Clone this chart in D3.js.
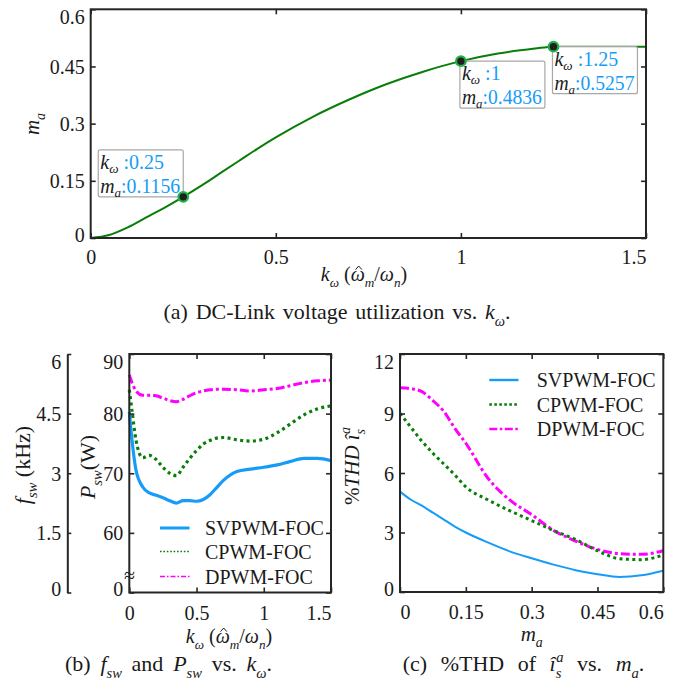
<!DOCTYPE html>
<html><head><meta charset="utf-8">
<script src="https://cdn.jsdelivr.net/npm/d3@7"></script>
<style>
html,body{margin:0;padding:0;background:#fff;}
text{font-family:"Liberation Serif","Times New Roman",serif;fill:#1a1a1a;}
</style></head>
<body><svg id="c" width="674" height="683"></svg>
<script>
// ---------- DATA ----------
// (a) DC-link voltage utilization
const kA  = [0,0.05,0.1,0.15,0.2,0.25,0.3,0.35,0.4,0.45,0.5,0.6,0.7,0.8,0.9,1.0,1.1,1.2,1.25,1.3,1.4,1.5];
const maA = [0,0.008,0.028,0.054,0.080,0.108,0.138,0.170,0.202,0.234,0.264,0.318,0.364,0.404,0.437,0.464,0.484,0.497,0.502,0.502,0.502,0.502];
const tipK = [0.25, 1, 1.25];
const tipMa = [0.108, 0.464, 0.502];
const tipKText = ["0.25", "1", "1.25"];
const tipMaText = ["0.1156", "0.4836", "0.5257"];
const xTicksA = [0, 0.5, 1, 1.5];
const yTicksA = [0, 0.15, 0.3, 0.45, 0.6];

// (b) switching frequency / power loss vs k_omega
const kB = [0,0.02,0.05,0.1,0.15,0.2,0.25,0.3,0.35,0.4,0.45,0.5,0.55,0.6,0.65,0.7,0.8,0.9,1.0,1.1,1.2,1.3,1.4,1.5];
const svB = [80.3,75.6,70.5,67.7,66.7,66.3,65.9,65.4,65.0,65.4,65.4,65.3,65.6,66.4,67.6,68.8,70.3,70.7,71.0,71.4,72.0,72.5,72.5,72.1];
const cpB = [84.0,80.5,75.5,72.6,73.0,72.3,71.0,70.0,69.6,71.0,72.5,73.8,74.9,75.5,75.9,76.0,75.6,75.4,75.7,76.8,78.3,79.8,80.8,81.3];
const dpB = [86.5,85.2,83.8,83.1,83.1,83.0,82.6,82.2,82.0,82.4,83.0,83.5,83.8,84.0,84.1,84.1,84.0,83.8,84.0,84.2,84.7,85.2,85.5,85.6];
const xTicksB = [0, 0.5, 1, 1.5];
const pTicksB = [50, 60, 70, 80, 90];
const pTickText = ["0", "60", "70", "80", "90"];
const fTicksB = [0, 1.5, 3, 4.5, 6];
const fTickText = ["0", "1.5", "3", "4.5", "6"];

// (c) THD vs m_a
const maC = [0,0.025,0.05,0.075,0.1,0.125,0.15,0.2,0.25,0.3,0.35,0.4,0.45,0.5,0.55,0.6];
const svC = [5.06,4.65,4.35,4.0,3.65,3.3,3.0,2.5,2.05,1.7,1.38,1.1,0.9,0.76,0.84,1.07];
const cpC = [9.0,8.3,7.6,7.0,6.45,5.9,5.3,4.65,4.1,3.6,3.1,2.65,2.08,1.68,1.63,1.87];
const dpC = [10.3,10.25,10.1,9.65,9.1,8.25,7.5,5.75,4.64,3.9,3.1,2.57,2.15,1.93,1.9,2.08];
const xTicksC = [0, 0.15, 0.3, 0.45, 0.6];
const yTicksC = [0, 3, 6, 9, 12];

const seriesNames = ["SVPWM-FOC", "CPWM-FOC", "DPWM-FOC"];

// ---------- STYLE ----------
const BLUE = "#169cf8", GREEN = "#087d08", MAG = "#ff00ff", AX = "#262626";
const FS = 20;
const svg = d3.select("#c");
svg.append("rect").attr("width",674).attr("height",683).attr("fill","#fff");

// rich text: parts {t, i, sub, sup, dx, fill, hat}
function rich(sel, parts, base, subOff) {
  const so = subOff == null ? 0.3 : subOff;
  let cur = 0, idx = 0;
  const hats = [];
  parts.forEach(p => {
    const ts = sel.append("tspan").text(p.t);
    let off = 0, fs = base;
    if (p.sub) { off = base * so; fs = base * 0.66; }
    if (p.sup) { off = -base * 0.42; fs = base * 0.66; }
    ts.attr("dy", (off - cur).toFixed(2)).style("font-size", fs + "px");
    if (p.i) ts.style("font-style", "italic");
    if (p.dx != null) ts.attr("dx", p.dx);
    if (p.fill) ts.style("fill", p.fill);
    if (p.hat) hats.push(idx);
    idx += p.t.length;
    cur = off;
  });
  const node = sel.node();
  const parent = d3.select(node.parentNode);
  hats.forEach(ci => {
    const r = node.getExtentOfChar(ci);
    const cx = r.x + r.width / 2 + 1, top = r.y + r.height * 0.3;
    parent.append("path")
      .attr("transform", sel.attr("transform") || null)
      .attr("d", `M${cx - 3.2},${top} L${cx},${top - 3.6} L${cx + 3.2},${top}`)
      .attr("fill", "none").attr("stroke", "#1a1a1a").attr("stroke-width", 1);
  });
  return sel;
}
const KW = [{t:"k", i:true},{t:"ω", i:true, sub:true}];
const KWLABEL = [{t:"k", i:true},{t:"ω", i:true, sub:true},{t:" ("},{t:"ω", i:true, hat:true},{t:"m", i:true, sub:true},{t:"/"},{t:"ω", i:true},{t:"n", i:true, sub:true},{t:")"}];

function frame(g, x, y, xt, yt, opts) {
  const [x0, x1] = x.range(), [y0, y1] = [y.range()[1], y.range()[0]];
  const bx = g.append("g").attr("transform", `translate(0,${y1})`)
    .call(d3.axisBottom(x).tickValues(xt).tickSizeInner(-5).tickSizeOuter(0).tickFormat(opts.xfmt || d3.format("")));
  const tx = g.append("g").attr("transform", `translate(0,${y0})`)
    .call(d3.axisTop(x).tickValues(xt).tickSizeInner(-5).tickSizeOuter(0).tickFormat(""));
  const ly = g.append("g").attr("transform", `translate(${x0},0)`)
    .call(d3.axisLeft(y).tickValues(yt).tickSizeInner(-5).tickSizeOuter(0).tickPadding(6).tickFormat(opts.yfmt || d3.format("")));
  const ry = g.append("g").attr("transform", `translate(${x1},0)`)
    .call(d3.axisRight(y).tickValues(yt).tickSizeInner(-5).tickSizeOuter(0).tickFormat(""));
  [bx, tx, ly, ry].forEach(a => {
    a.select(".domain").remove();
    a.selectAll("line").attr("stroke", AX).attr("stroke-width", 1.6);
    a.selectAll("text").style("font-size", FS + "px").style("font-family", '"Liberation Serif",serif').attr("fill", "#1a1a1a");
  });
  bx.selectAll("text").attr("y", opts.xly || 19).attr("dy", "0.35em").each(function(d) {
    const w = this.getComputedTextLength(), px = x(d);
    let dx = 0;
    if (px + w / 2 > x1) dx = x1 - w / 2 - px;
    if (opts.clampLeft && px - w / 2 < x0) dx = x0 + w / 2 - px;
    d3.select(this).attr("dx", dx);
  });
  ly.selectAll("text").attr("dy", "0.35em").each(function(d) {
    const py = y(d);
    let yy = 0;
    if (py < y0 + 7) yy = y0 + 7 - py;
    if (py > y1 - 4) yy = y1 - 4 - py;
    d3.select(this).attr("y", yy);
  });
  g.append("rect").attr("x", x0).attr("y", y0).attr("width", x1 - x0).attr("height", y1 - y0)
    .attr("fill", "none").attr("stroke", AX).attr("stroke-width", 2);
}
function caption(g, cx, cy, len, parts) {
  const t = g.append("text").attr("x", cx).attr("y", cy).attr("text-anchor", "middle").style("font-size", "22px");
  rich(t, parts, 22);
  const w = t.node().getComputedTextLength();
  const nsp = parts.map(p => p.t).join("").split(" ").length - 1;
  const ws = Math.max(0, Math.min(8, (len - w) / nsp));
  t.style("word-spacing", ws + "px");
}

// ================= (a) =================
{
  const g = svg.append("g");
  const x = d3.scaleLinear([0, 1.5], [90.7, 646]);
  const y = d3.scaleLinear([0, 0.6], [238, 9.3]);
  const line = d3.line().x((d, i) => x(kA[i])).y(d => y(d)).curve(d3.curveMonotoneX);
  g.append("path").attr("d", line(maA)).attr("fill", "none").attr("stroke", GREEN).attr("stroke-width", 2);
  frame(g, x, y, xTicksA, yTicksA, {});

  tipK.forEach((k, i) => {
    const px = x(k), py = y(tipMa[i]);
    const bw = 85, bh = 47;
    const bx = i === 0 ? px - bw : px - 1, by = i === 0 ? py - bh : py;
    g.append("rect").attr("x", bx).attr("y", by).attr("width", bw).attr("height", bh).attr("rx", 2)
      .attr("fill", "rgba(255,255,255,0.92)").attr("stroke", "#a8a8a8").attr("stroke-width", 1.2);
    const t1 = g.append("text").attr("x", bx + 2).attr("y", by + 19).style("font-size", "20px");
    rich(t1, [{t:"k", i:true},{t:"ω", i:true, sub:true},{t:" :" + tipKText[i], fill: BLUE}], 20, 0.2);
    const t2 = g.append("text").attr("x", bx + 2).attr("y", by + 43).style("font-size", "20px");
    rich(t2, [{t:"m", i:true},{t:"a", i:true, sub:true},{t:":" + tipMaText[i], fill: BLUE}], 20, 0.2);
    t2.attr("textLength", bw - 5).attr("lengthAdjust", "spacingAndGlyphs");
    g.append("circle").attr("cx", px).attr("cy", py).attr("r", 4.8)
      .attr("fill", "#202020").attr("stroke", "#21b14b").attr("stroke-width", 2.2);
  });

  const yl = g.append("text").attr("transform", "translate(39,124) rotate(-90)").attr("text-anchor", "middle").style("font-size", "21px");
  rich(yl, [{t:"m", i:true},{t:"a", i:true, sub:true}], 21);
  const xl = g.append("text").attr("x", 364).attr("y", 281).attr("text-anchor", "middle").style("font-size", FS + "px");
  rich(xl, KWLABEL, FS);
  caption(g, 337, 319, 347, [{t:"(a) DC-Link voltage utilization vs. "}, ...KW, {t:"."}]);
}

// ================= (b) =================
{
  const g = svg.append("g");
  const x = d3.scaleLinear([0, 1.5], [129.3, 331]);
  const y = d3.scaleLinear([50, 90], [592.5, 354]);
  const f = d3.scaleLinear([0, 6], [592.5, 354]);
  const mk = arr => d3.line().x((d, i) => x(kB[i])).y(d => y(d)).curve(d3.curveMonotoneX)(arr);
  g.append("path").attr("d", mk(dpB)).attr("fill", "none").attr("stroke", MAG).attr("stroke-width", 3).attr("stroke-dasharray", "9,3,3,3");
  g.append("path").attr("d", mk(cpB)).attr("fill", "none").attr("stroke", GREEN).attr("stroke-width", 3.2).attr("stroke-dasharray", "3,3.4");
  g.append("path").attr("d", mk(svB)).attr("fill", "none").attr("stroke", BLUE).attr("stroke-width", 3.2);
  frame(g, x, y, xTicksB, pTicksB, {yfmt: d => pTickText[pTicksB.indexOf(d)], xly: 20.5});

  const fa = g.append("g").attr("transform", "translate(67.3,0)")
    .call(d3.axisLeft(f).tickValues(fTicksB).tickSizeInner(-4).tickSizeOuter(0).tickPadding(6).tickFormat(d => fTickText[fTicksB.indexOf(d)]));
  fa.select(".domain").attr("stroke", AX).attr("stroke-width", 2);
  fa.selectAll("line").attr("stroke", AX).attr("stroke-width", 1.6);
  fa.selectAll("text").style("font-size", FS + "px").style("font-family", '"Liberation Serif",serif').attr("fill", "#1a1a1a")
    .attr("dy", "0.35em").each(function(d) {
      const py = f(d); let yy = 0;
      if (py < 354 + 7) yy = 361 - py;
      if (py > 592.5 - 4) yy = 588.5 - py;
      d3.select(this).attr("y", yy);
    });

  g.append("text").attr("x", 129.5).attr("y", 575).attr("text-anchor", "middle").attr("dy", "0.35em")
    .style("font-size", "20px").text("≈");

  const lx0 = 160, lx1 = 189.5, ly = [528, 551.5, 576.5];
  g.append("line").attr("x1", lx0).attr("x2", lx1).attr("y1", ly[0]).attr("y2", ly[0]).attr("stroke", BLUE).attr("stroke-width", 3);
  g.append("line").attr("x1", lx0).attr("x2", lx1).attr("y1", ly[1]).attr("y2", ly[1]).attr("stroke", GREEN).attr("stroke-width", 1.6).attr("stroke-dasharray", "1.6,1.8");
  g.append("line").attr("x1", lx0).attr("x2", lx1).attr("y1", ly[2]).attr("y2", ly[2]).attr("stroke", MAG).attr("stroke-width", 1.4).attr("stroke-dasharray", "5,2,1.5,2");
  seriesNames.forEach((n, i) => g.append("text").attr("x", 205).attr("y", ly[i]).attr("dy", "0.35em").style("font-size", FS + "px").text(n));

  const pl = g.append("text").attr("transform", "translate(95,467) rotate(-90)").attr("text-anchor", "middle").style("font-size", "22px");
  rich(pl, [{t:"P", i:true},{t:"sw", i:true, sub:true},{t:"(W)"}], 22);
  const fl = g.append("text").attr("transform", "translate(30,465) rotate(-90)").attr("text-anchor", "middle").style("font-size", "22px");
  rich(fl, [{t:"f", i:true},{t:"sw", i:true, sub:true},{t:" (kHz)"}], 22);
  const xl = g.append("text").attr("x", 229).attr("y", 643).attr("text-anchor", "middle").style("font-size", FS + "px");
  rich(xl, KWLABEL, FS);
  caption(g, 168.5, 671, 207, [{t:"(b) "},{t:"f", i:true},{t:"sw", i:true, sub:true},{t:" and "},{t:"P", i:true},{t:"sw", i:true, sub:true},{t:" vs. "}, ...KW, {t:"."}]);
}

// ================= (c) =================
{
  const g = svg.append("g");
  const x = d3.scaleLinear([0, 0.6], [400, 663.3]);
  const y = d3.scaleLinear([0, 12], [592, 354]);
  const mk = arr => d3.line().x((d, i) => x(maC[i])).y(d => y(d)).curve(d3.curveMonotoneX)(arr);
  g.append("path").attr("d", mk(dpC)).attr("fill", "none").attr("stroke", MAG).attr("stroke-width", 3).attr("stroke-dasharray", "9,3,3,3");
  g.append("path").attr("d", mk(cpC)).attr("fill", "none").attr("stroke", GREEN).attr("stroke-width", 3).attr("stroke-dasharray", "3,3.4");
  g.append("path").attr("d", mk(svC)).attr("fill", "none").attr("stroke", BLUE).attr("stroke-width", 2);
  frame(g, x, y, xTicksC, yTicksC, {clampLeft: true, xly: 20});

  const lx0 = 489.3, lx1 = 518.5, ly = [380, 404.5, 429];
  g.append("line").attr("x1", lx0).attr("x2", lx1).attr("y1", ly[0]).attr("y2", ly[0]).attr("stroke", BLUE).attr("stroke-width", 2.4);
  g.append("line").attr("x1", lx0).attr("x2", lx1).attr("y1", ly[1]).attr("y2", ly[1]).attr("stroke", GREEN).attr("stroke-width", 2.6).attr("stroke-dasharray", "2.6,2.4");
  g.append("line").attr("x1", lx0).attr("x2", lx1).attr("y1", ly[2]).attr("y2", ly[2]).attr("stroke", MAG).attr("stroke-width", 2.6).attr("stroke-dasharray", "8,2.5,2.5,2.5");
  seriesNames.forEach((n, i) => g.append("text").attr("x", 536.7).attr("y", ly[i]).attr("dy", "0.35em").style("font-size", FS + "px").text(n));

  const yl = g.append("text").attr("transform", "translate(359,466) rotate(-90)").attr("text-anchor", "middle").style("font-size", "21px");
  rich(yl, [{t:"%"},{t:"THD ", i:true},{t:"î", i:true},{t:"s", i:true, sub:true},{t:"a", i:true, sup:true, dx:-5}], 21);
  const xl = g.append("text").attr("x", 531.7).attr("y", 641).attr("text-anchor", "middle").style("font-size", "21px");
  rich(xl, [{t:"m", i:true},{t:"a", i:true, sub:true}], 21);
  caption(g, 523.5, 671, 263, [{t:"(c) %THD of "},{t:"î", i:true},{t:"s", i:true, sub:true},{t:"a", i:true, sup:true, dx:-5},{t:" vs. "},{t:"m", i:true},{t:"a", i:true, sub:true},{t:"."}]);
}
</script></body></html>
